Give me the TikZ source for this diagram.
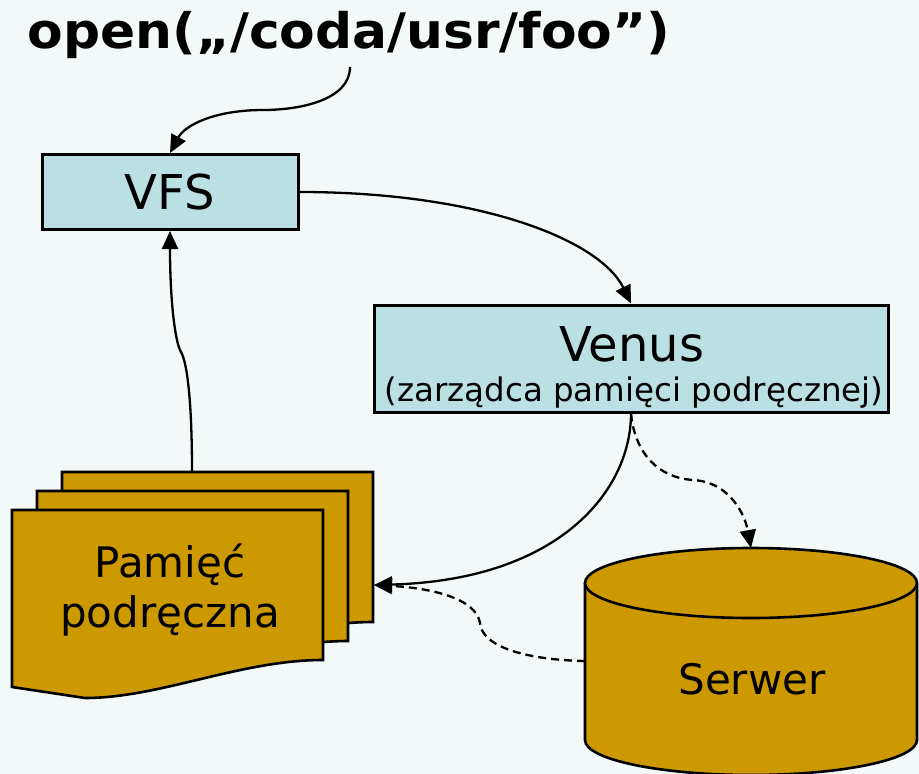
\documentclass[tikz,border=0pt]{standalone}
\usepackage{fontspec}
\setmainfont{DejaVu Sans}
\usetikzlibrary{arrows.meta}
\definecolor{bgc}{HTML}{F3F9F9}
\definecolor{boxblue}{HTML}{BBE0E3}
\definecolor{gold}{HTML}{CC9900}
\tikzset{
  box/.style={draw=black, line width=3pt, fill=boxblue, inner sep=0pt},
  gshape/.style={draw=black, line width=2.6pt, fill=gold},
  arr/.style={line width=2.3pt, -{Triangle[length=18pt,width=16pt]}},
  darr/.style={arr, dash pattern=on 8pt off 5pt},
  big/.style={font=\fontsize{48}{56}\selectfont},
  mid/.style={font=\fontsize{42}{50}\selectfont},
  small/.style={font=\fontsize{32.5}{40}\selectfont},
}
\begin{document}
\begin{tikzpicture}[x=1pt,y=-1pt]
  \useasboundingbox (0,0) rectangle (919,774);
  \fill[bgc] (0,0) rectangle (919,774);

  % heading
  \node[anchor=base, font=\bfseries\fontsize{49}{56}\selectfont, inner sep=0pt] (title) at (349,48)
    {\scalebox{1.058}[1]{open(„/coda/usr/foo”)}};
  \coordinate (ts) at (350,67);

  % VFS and Venus boxes
  \node[box, big, minimum width=256pt, minimum height=75pt] (vfs) at (170,192) {VFS};
  \node[box, minimum width=514pt, minimum height=107pt] (venus) at (631,358.5) {};
  \node[big, anchor=base, inner sep=0pt] (venusname) at (632,361) {Venus};
  \node[small, anchor=base, inner sep=0pt] (venusrole) at (634,401) {(zarządca pamięci podręcznej)};

  % stack of cache pages
  \foreach \dx/\dy in {50/-38, 25/-19, 0/0} {
    \begin{scope}[shift={(\dx,\dy)}]
      \filldraw[gshape] (12,510) -- (323,510) -- (323,660)
        .. controls (240,660) and (160,698) .. (85,698) -- (12,687) -- cycle;
    \end{scope}
  }
  \node[mid, anchor=base, inner sep=0pt] (pam1) at (170,577) {Pamięć};
  \node[mid, anchor=base, inner sep=0pt] (pam2) at (170,627) {podręczna};
  \coordinate (stk) at (192,472);
  \coordinate (stkr) at (374,585);

  % server cylinder
  \fill[gold] (585,583) -- (585,740)
    arc[start angle=180, end angle=0, x radius=166, y radius=35] -- (917,583) -- cycle;
  \draw[line width=2.6pt] (585,583) -- (585,740)
    arc[start angle=180, end angle=0, x radius=166, y radius=35] -- (917,583);
  \filldraw[gshape] (751,583) ellipse [x radius=166, y radius=35];
  \node[mid, anchor=base, inner sep=0pt] (serwer) at (752,694) {Serwer};
  \coordinate (cyltop) at (751,548);
  \coordinate (cylleft) at (585,661);

  % connectors
  \draw[arr] (ts) .. controls (350,100) and (300,110) .. (263,110)
    .. controls (215,110) and (185,125) .. (vfs.north);
  \draw[arr] (vfs.east) .. controls (480,192) and (600,240) .. (venus.north);
  \draw[arr] (stk) .. controls (192,400) and (187,362) .. (181,352)
    .. controls (175,342) and (170,300) .. (vfs.south);
  \draw[arr] (venus.south) .. controls (631,490) and (560,580) .. (stkr);
  \draw[darr] (venus.south) .. controls (635,455) and (660,478) .. (693,480)
    .. controls (730,482) and (745,515) .. (cyltop);
  \draw[darr] (cylleft) .. controls (530,660) and (482,648) .. (480,623)
    .. controls (476,598) and (430,588) .. (stkr);
\end{tikzpicture}
\end{document}
